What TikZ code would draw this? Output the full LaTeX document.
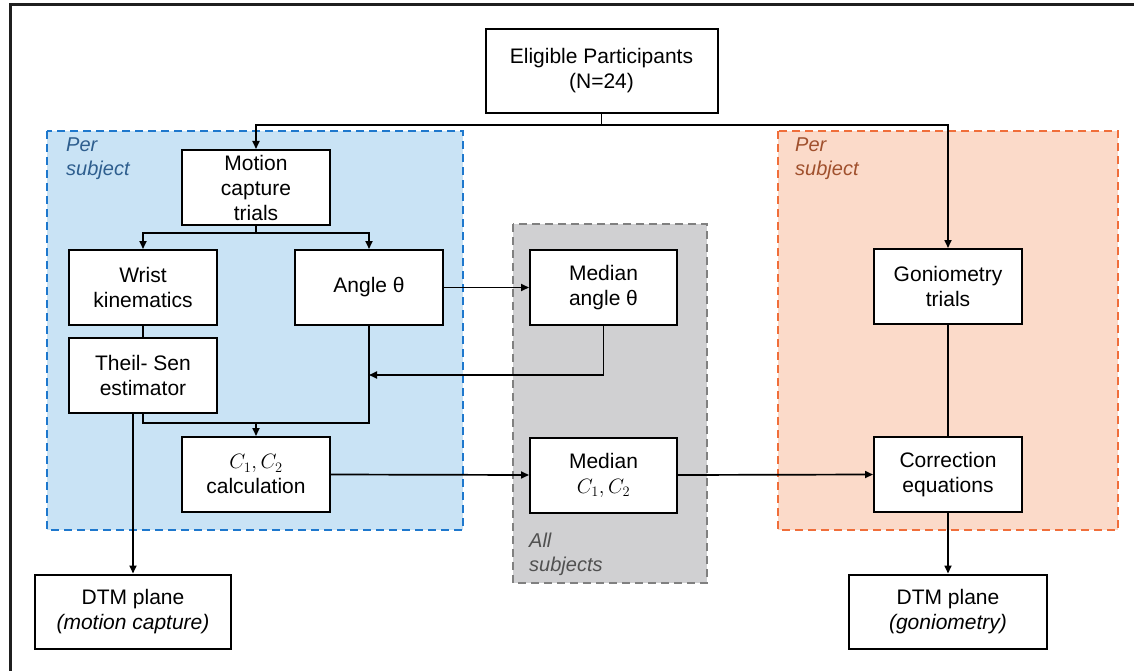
\documentclass[tikz,border=0pt]{standalone}
\usepackage{fontspec}
\setmainfont{Liberation Sans}
\usetikzlibrary{arrows.meta,calc}
\definecolor{bluefill}{RGB}{201,227,245}
\definecolor{blueedge}{RGB}{30,120,205}
\definecolor{bluetext}{RGB}{46,94,142}
\definecolor{grayfill}{RGB}{208,208,210}
\definecolor{grayedge}{RGB}{128,128,128}
\definecolor{grayedgetext}{RGB}{80,80,80}
\definecolor{orfill}{RGB}{251,218,201}
\definecolor{oredge}{RGB}{240,110,58}
\definecolor{ortext}{RGB}{160,80,45}
\tikzset{
  box/.style={draw=black, fill=white, line width=2pt, minimum width=148pt, minimum height=75pt,
    align=center, inner sep=2pt, font=\fontsize{21}{25}\selectfont},
  conn/.style={line width=1.7pt, draw=black},
  arr/.style={conn, -{Triangle[length=8pt,width=7pt]}},
  region/.style={line width=2pt, dash pattern=on 8pt off 5pt},
  lbl/.style={anchor=north west, align=left, inner sep=0pt, font=\fontsize{20}{24}\selectfont\itshape}
}
\begin{document}
\begin{tikzpicture}[x=1pt,y=-1pt]
\useasboundingbox (0,0) rectangle (1134,671);
% outer frame
\draw[line width=3pt, draw=black!88] (10,671) -- (10,5) -- (1134,5);
% regions
\draw[region, fill=bluefill, draw=blueedge] (47,131) rectangle (463,530);
\draw[region, fill=grayfill, draw=grayedge] (513,224) rectangle (707,583);
\draw[region, fill=orfill, draw=oredge] (778,131) rectangle (1118,530);
\node[lbl, text=bluetext] (lblA) at (66,138) {Per\\subject};
\node[lbl, text=ortext] (lblB) at (795,138) {Per\\subject};
\node[lbl, text=grayedgetext] (lblC) at (529,533) {All\\subjects};
% nodes
\node[box, minimum width=232pt, minimum height=84pt] (elig) at (601.5,71) {Eligible Participants\\(N=24)};
\node[box] (mct) at (256,187.5) {Motion\\capture\\trials};
\node[box] (wrist) at (143,287.5) {Wrist\\kinematics};
\node[box] (angle) at (369,287.5) {Angle θ};
\node[box] (theil) at (143,375) {Theil- Sen\\estimator};
\node[box] (calc) at (256,474.5) {$C_1,C_2$\\calculation};
\node[box, minimum width=147pt] (medang) at (603.5,287.5) {Median\\angle θ};
\node[box, minimum width=147pt] (medc) at (603.5,475) {Median\\$C_1,C_2$};
\node[box] (gonio) at (948,286.5) {Goniometry\\trials};
\node[box] (corr) at (948,474.5) {Correction\\equations};
\node[box, minimum width=196pt, minimum height=74pt] (dtmA) at (133,611.5) {DTM plane\\\textit{(motion capture)}};
\node[box, minimum width=198pt, minimum height=74pt] (dtmB) at (948,611.5) {DTM plane\\\textit{(goniometry)}};
% coordinates
\coordinate (split) at (601.5,125);
\coordinate (splitL) at (256,125);
\coordinate (splitR) at (948,125);
\coordinate (mctj) at (256,233);
\coordinate (mctL) at (143,233);
\coordinate (mctR) at (369,233);
\coordinate (joinL) at (143,423);
\coordinate (joinR) at (369,423);
\coordinate (joinM) at (256,423);
\coordinate (medD) at (603.5,375);
\coordinate (medE) at (369,375);
\coordinate (theilB) at (133,412.5);
% connectors
\draw[conn] (elig.south) -- (split);
\draw[arr] (split) -- (splitL) -- (mct.north);
\draw[arr] (split) -- (splitR) -- (gonio.north);
\draw[conn] (mct.south) -- (mctj);
\draw[arr] (mctj) -- (mctL) -- (wrist.north);
\draw[arr] (mctj) -- (mctR) -- (angle.north);
\draw[conn] (wrist.south) -- (theil.north);
\draw[conn] (theil.south) -- (joinL) -- (joinR) -- (angle.south);
\draw[arr] (joinM) -- (calc.north);
\draw[arr] (medang.south) -- (medD) -- (medE);
\draw[arr] (theilB) -- (dtmA.north);
\draw[arr] (angle.east) -- (medang.west);
\draw[arr] (calc.east) -- (medc.west);
\draw[arr] (medc.east) -- (corr.west);
\draw[conn] (gonio.south) -- (corr.north);
\draw[arr] (corr.south) -- (dtmB.north);
\end{tikzpicture}
\end{document}
